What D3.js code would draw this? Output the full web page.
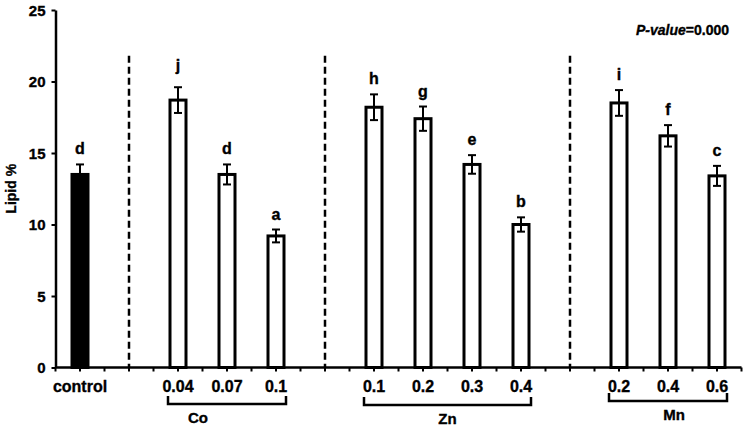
<!DOCTYPE html>
<html>
<head>
<meta charset="utf-8">
<script src="https://cdn.jsdelivr.net/npm/d3@7"></script>
<style>
  body { margin: 0; background: #fff; }
  svg text { font-family: "Liberation Sans", Arial, sans-serif; font-weight: bold; fill: #000; stroke: #000; stroke-width: 0.35px; }
</style>
</head>
<body>
<svg id="chart" width="744" height="426"></svg>
<script>
// slots on the category axis, "" = empty slot holding a dashed separator
const labels = ['control', '', '0.04', '0.07', '0.1', '', '0.1', '0.2', '0.3', '0.4', '', '0.2', '0.4', '0.6'];
const values = [13.5, null, 18.7, 13.5, 9.2, null, 18.2, 17.4, 14.2, 10.0, null, 18.5, 16.2, 13.4];
const errors = [0.7, null, 0.9, 0.7, 0.45, null, 0.9, 0.85, 0.65, 0.5, null, 0.9, 0.75, 0.7];
const letters = ['d', null, 'j', 'd', 'a', null, 'h', 'g', 'e', 'b', null, 'i', 'f', 'c'];
const groups = ['Co', 'Zn', 'Mn'];
const groupStart = [2, 6, 11];
const groupEnd = [4, 9, 13];
const yTicks = [0, 5, 10, 15, 20, 25];

const svg = d3.select('#chart');
const margin = { top: 10, left: 55.5, right: 2.5, bottom: 58.5 };
const width = 744, height = 426;

const x = d3.scaleBand()
  .domain(d3.range(labels.length))
  .range([margin.left, width - margin.right])
  .padding(0);

const y = d3.scaleLinear()
  .domain([0, 25])
  .range([height - margin.bottom, margin.top]);

const barW = 16;
const cx = (i) => x(i) + x.bandwidth() / 2;

// y axis
const yAxis = svg.append('g')
  .attr('transform', `translate(${margin.left},0)`)
  .call(d3.axisLeft(y).tickValues(yTicks).tickSize(4).tickPadding(6).tickSizeOuter(0));
yAxis.select('.domain').attr('stroke', '#000').attr('stroke-width', 2.5);
yAxis.selectAll('.tick line').attr('stroke-width', 2);
yAxis.selectAll('.tick text').style('font-size', '15px').attr('dy', '0.35em');

svg.append('text')
  .attr('transform', `translate(16,${(y(0) + y(25)) / 2}) rotate(-90)`)
  .attr('text-anchor', 'middle')
  .style('font-size', '14px')
  .text('Lipid %');

// dashed separators in empty slots
const gaps = d3.range(labels.length).filter((i) => values[i] === null);
svg.selectAll('.sep')
  .data(gaps)
  .join('line')
  .attr('class', 'sep')
  .attr('x1', cx).attr('x2', cx)
  .attr('y1', y(21.8)).attr('y2', y(0))
  .attr('stroke', '#000')
  .attr('stroke-width', 2.5)
  .attr('stroke-dasharray', '7,4');

// bars
const bars = d3.range(labels.length).filter((i) => values[i] !== null);
svg.selectAll('.bar')
  .data(bars)
  .join('rect')
  .attr('class', 'bar')
  .attr('x', (i) => cx(i) - barW / 2)
  .attr('width', barW)
  .attr('y', (i) => y(values[i]))
  .attr('height', (i) => y(0) - y(values[i]))
  .attr('fill', (i) => (i === 0 ? '#000' : '#fff'))
  .attr('stroke', '#000')
  .attr('stroke-width', 3);

// error bars
const err = svg.selectAll('.err')
  .data(bars)
  .join('g')
  .attr('class', 'err')
  .attr('stroke', '#000')
  .attr('stroke-width', 2);
err.append('line')
  .attr('x1', cx).attr('x2', cx)
  .attr('y1', (i) => y(values[i] - errors[i]))
  .attr('y2', (i) => y(values[i] + errors[i]));
err.append('line')
  .attr('x1', (i) => cx(i) - 4).attr('x2', (i) => cx(i) + 4)
  .attr('y1', (i) => y(values[i] + errors[i]))
  .attr('y2', (i) => y(values[i] + errors[i]));
err.append('line')
  .attr('x1', (i) => cx(i) - 4).attr('x2', (i) => cx(i) + 4)
  .attr('y1', (i) => y(values[i] - errors[i]))
  .attr('y2', (i) => y(values[i] - errors[i]));

// significance letters
svg.selectAll('.letter')
  .data(bars)
  .join('text')
  .attr('class', 'letter')
  .attr('x', cx)
  .attr('y', (i) => y(values[i] + errors[i]) - (letters[i] === 'j' ? 16 : 10))
  .attr('text-anchor', 'middle')
  .style('font-size', '16px')
  .text((i) => letters[i]);

// x axis: line plus ticks every half slot
const x0 = y(0);
svg.append('line')
  .attr('x1', margin.left).attr('x2', width - margin.right)
  .attr('y1', x0).attr('y2', x0)
  .attr('stroke', '#000').attr('stroke-width', 2.5);
const halfTicks = d3.range(labels.length * 2 + 1).map((k) => margin.left + k * x.bandwidth() / 2);
svg.selectAll('.xtick')
  .data(halfTicks)
  .join('line')
  .attr('class', 'xtick')
  .attr('x1', (d) => d).attr('x2', (d) => d)
  .attr('y1', x0).attr('y2', x0 + 4)
  .attr('stroke', '#000').attr('stroke-width', 2);

svg.selectAll('.xlab')
  .data(bars)
  .join('text')
  .attr('class', 'xlab')
  .attr('x', cx)
  .attr('y', x0 + 24)
  .attr('text-anchor', 'middle')
  .style('font-size', '16px')
  .text((i) => labels[i]);

// group brackets (label offsets follow the original layout)
const bracketY = [404, 405, 401];
const labelDx = [-29, 0, 6];
groups.forEach((g, k) => {
  const l = cx(groupStart[k]) - 10;
  const r = cx(groupEnd[k]) + 10;
  const by = bracketY[k];
  svg.append('path')
    .attr('d', `M${l},${by - 8}V${by}H${r}V${by - 8}`)
    .attr('fill', 'none')
    .attr('stroke', '#000')
    .attr('stroke-width', 2.5);
  svg.append('text')
    .attr('x', (l + r) / 2 + labelDx[k])
    .attr('y', by + 19)
    .attr('text-anchor', 'middle')
    .style('font-size', '15px')
    .text(g);
});

// p-value note
const p = svg.append('text')
  .attr('x', 729)
  .attr('y', 35)
  .attr('text-anchor', 'end')
  .style('font-size', '14px');
p.append('tspan').style('font-style', 'italic').text('P-value');
p.append('tspan').text('=0.000');
</script>
</body>
</html>
